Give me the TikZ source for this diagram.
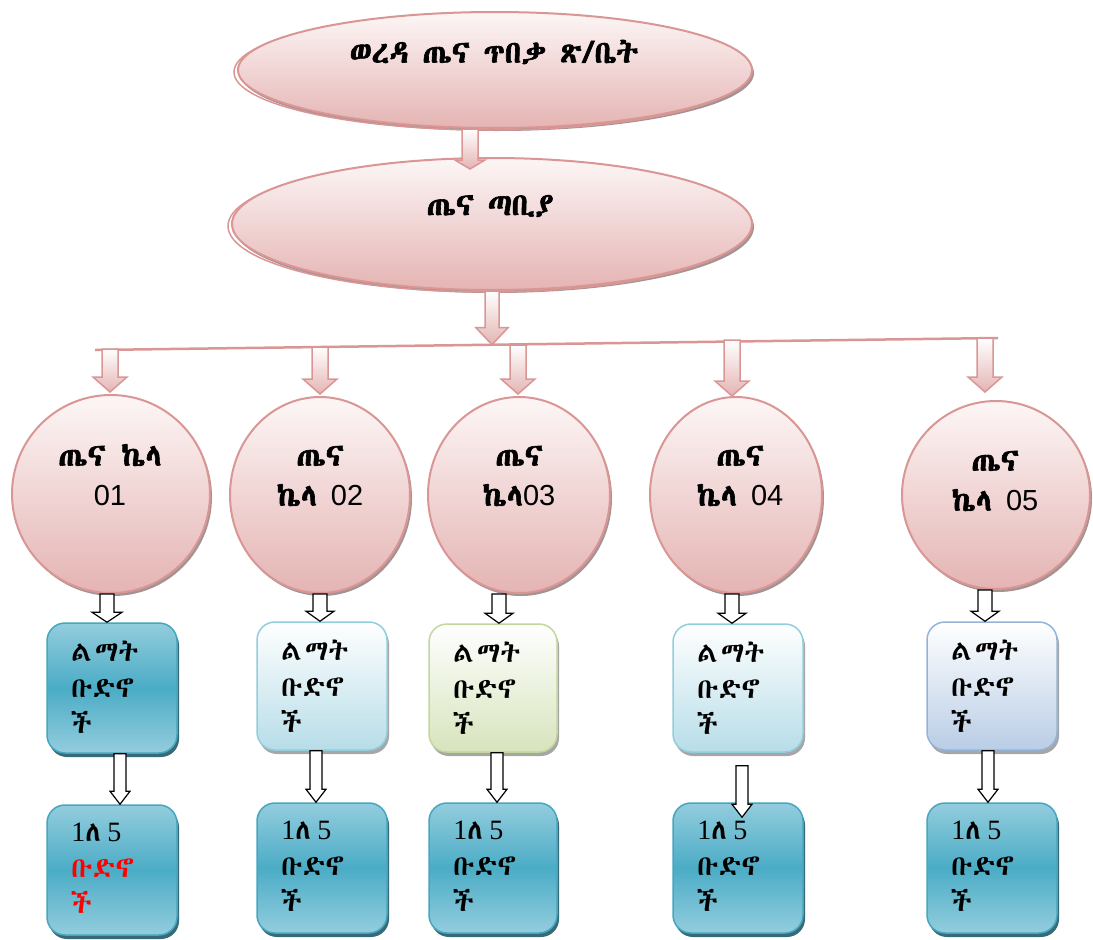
\documentclass[tikz,border=0pt]{standalone}
\usepackage{fontspec}
\usetikzlibrary{shapes.geometric,shadows,calc}
% Ethiopic text face, first one available
\IfFontExistsTF{Abyssinica SIL}{\newfontfamily\ethfont{Abyssinica SIL}[AutoFakeBold=2]}{%
 \IfFontExistsTF{FreeSerif}{\newfontfamily\ethfont{FreeSerif}[AutoFakeBold=2]}{%
  \IfFontExistsTF{FreeSans}{\newfontfamily\ethfont{FreeSans}[AutoFakeBold=2]}{%
   \IfFontExistsTF{NotoSansEthiopic-Regular.ttf}{\newfontfamily\ethfont{NotoSansEthiopic-Regular.ttf}[AutoFakeBold=2]}{%
    \IfFontExistsTF{Unifont}{\newfontfamily\ethfont{Unifont}[AutoFakeBold=2]}{%
     \newfontfamily\ethfont{DejaVu Sans}}}}}}
\newfontfamily\numsans{Liberation Sans}
\newfontfamily\numserif{Liberation Serif}

\definecolor{pinkline}{HTML}{D99694}
\definecolor{pinkfill}{HTML}{E4B4B3}
\definecolor{pinktop}{HTML}{FDF6F6}
\definecolor{tealmid}{HTML}{4BACC6}
\definecolor{tealedge}{HTML}{93CDDD}
\definecolor{tealline}{HTML}{46A5BF}
\definecolor{tealshadow}{HTML}{215968}
\definecolor{aquaend}{HTML}{B7DDE8}
\definecolor{aqualine}{HTML}{92CDDC}
\definecolor{olivend}{HTML}{D7E4BD}
\definecolor{oliveline}{HTML}{C3D69B}
\definecolor{lavend}{HTML}{B9CDE5}
\definecolor{lavline}{HTML}{95B3D7}

% block arrow: #1 style, #2 start, #3 tip, #4 half shaft, #5 half head, #6 head length
\newcommand\blockarrow[6]{%
  \path[#1] let \p1=#2, \p2=#3 in
    ({\x1-#4},\y1) -- ({\x1-#4},{\y2+#6}) -- ({\x1-#5},{\y2+#6}) -- (\x1,\y2)
    -- ({\x1+#5},{\y2+#6}) -- ({\x1+#4},{\y2+#6}) -- ({\x1+#4},\y1) -- cycle;}
\newcommand\kelanum[1]{{\numsans\mdseries\fontsize{29}{40}\selectfont #1}}
\newcommand\onefive{{\numserif 1}ለ\hspace{6pt}{\numserif 5}}

\tikzset{
  pinkshadow/.style={drop shadow={shadow xshift=2pt,shadow yshift=-3pt,fill=black!60!pinkline,opacity=.55}},
  bigoval/.style={ellipse, inner sep=0pt, draw=pinkline, line width=2pt,
    top color=pinktop, bottom color=pinkfill, pinkshadow,
    preaction={draw=pinkline, line width=1.5pt, transform canvas={shift={(-4pt,-2pt)}}}},
  kela/.style={ellipse, inner sep=0pt, draw=pinkline, line width=2pt,
    top color=pinktop, bottom color=pinkfill, pinkshadow},
  tealbox/.style={rounded corners=18pt, inner sep=0pt, draw=tealline, line width=1.5pt,
    top color=tealedge, bottom color=tealedge, middle color=tealmid,
    minimum width=130pt, minimum height=130pt,
    drop shadow={shadow xshift=2pt,shadow yshift=-4pt,fill=tealshadow,opacity=.9}},
  lightbox/.style={rounded corners=18pt, inner sep=0pt, line width=1.5pt,
    minimum width=130pt, minimum height=128pt, top color=white,
    drop shadow={shadow xshift=2pt,shadow yshift=-4pt,fill=black,opacity=.35}},
  aquabox/.style={lightbox, draw=aqualine, bottom color=aquaend},
  olivebox/.style={lightbox, draw=oliveline, bottom color=olivend},
  lavbox/.style={lightbox, draw=lavline, bottom color=lavend},
  pinkarrow/.style={draw=pinkline, line width=1.5pt, top color=white, bottom color=pinkfill},
  whitearrow/.style={draw=black, line width=1.2pt, fill=white},
  ovaltext/.style={font=\ethfont\bfseries\fontsize{31}{36}\selectfont, inner sep=0pt},
  kelatext/.style={font=\ethfont\bfseries\fontsize{31}{40}\selectfont, align=center, inner sep=0pt},
  boxtext/.style={font=\ethfont\fontsize{28}{36}\selectfont, align=left, inner sep=0pt, anchor=north west},
}

\begin{document}
\begin{tikzpicture}[x=1pt,y=-1pt]
\useasboundingbox (0,0) rectangle (1093,940);

% top level
\node[bigoval, minimum width=514pt, minimum height=116pt] (wereda) at (495,70) {};
\node[ovaltext] (weredatxt) at (494,52) {ወረዳ ጤና ጥበቃ ጽ/ቤት};
\node[bigoval, minimum width=520pt, minimum height=132pt] (station) at (492,224) {};
\node[ovaltext] (stationtxt) at (490,206) {ጤና ጣቢያ};
\blockarrow{pinkarrow}{([xshift=-25pt]wereda.south)}{([yshift=-12pt]station.north)}{8pt}{15pt}{9pt}

% distribution bar
\coordinate (barL) at (95,350);
\coordinate (barR) at (998,338);
\draw[pinkline, line width=2.5pt] (barL) -- (barR);
\blockarrow{pinkarrow}{(station.south)}{($(barL)!0.44!(barR)$)}{7pt}{16pt}{17pt}

% health posts
\node[kela, minimum width=198pt, minimum height=198pt] (k1) at (111,494) {};
\node[kela, minimum width=180pt, minimum height=196pt] (k2) at (320,495) {};
\node[kela, minimum width=182pt, minimum height=196pt] (k3) at (519,495) {};
\node[kela, minimum width=172pt, minimum height=196pt] (k4) at (736,495) {};
\node[kela, minimum width=188pt, minimum height=188pt] (k5) at (996,495) {};
\node[kelatext] (k1t) at (110,475) {ጤና\hspace{16pt}ኬላ\\\kelanum{01}};
\node[kelatext] (k2t) at (320,476) {ጤና\\ኬላ \kelanum{02}};
\node[kelatext] (k3t) at (519,476) {ጤና\\ኬላ\kelanum{03}};
\node[kelatext] (k4t) at (740,476) {ጤና\\ኬላ \kelanum{04}};
\node[kelatext] (k5t) at (995,481) {ጤና\\ኬላ \kelanum{05}};

\coordinate (p1) at (110,349);
\coordinate (p2) at (320,347);
\coordinate (p3) at (518,345);
\coordinate (p4) at (732,340);
\coordinate (p5) at (985,338);
\blockarrow{pinkarrow}{(p1)}{([yshift=2pt]k1.north)}{8pt}{17pt}{15pt}
\blockarrow{pinkarrow}{(p2)}{([yshift=2pt]k2.north)}{8pt}{17pt}{15pt}
\blockarrow{pinkarrow}{(p3)}{([yshift=2pt]k3.north)}{8pt}{17pt}{15pt}
\blockarrow{pinkarrow}{(p4)}{([yshift=0pt]k4.north)}{8pt}{17pt}{15pt}
\blockarrow{pinkarrow}{(p5)}{([yshift=8pt]k5.north)}{8pt}{17pt}{15pt}

% development groups
\node[tealbox] (m1) at (112,688) {};
\node[aquabox] (m2) at (322,686) {};
\node[olivebox, minimum width=128pt] (m3) at (493,688) {};
\node[aquabox] (m4) at (738,688) {};
\node[lavbox] (m5) at (992,686) {};
\foreach \m in {m1,m2,m3,m4,m5}
  \node[boxtext] (\m t) at ([xshift=25pt,yshift=-19pt]\m.north west) {ል\hspace{3pt}ማት\\ቡድኖ\\ች};

\blockarrow{whitearrow}{([xshift=-4pt]k1.south)}{(m1.north)}{7pt}{15pt}{10pt}
\blockarrow{whitearrow}{(k2.south)}{(m2.north)}{7pt}{14pt}{10pt}
\blockarrow{whitearrow}{([xshift=-20pt]k3.south)}{(m3.north)}{7pt}{14pt}{10pt}
\blockarrow{whitearrow}{([xshift=-4pt]k4.south)}{(m4.north)}{7pt}{14pt}{10pt}
\blockarrow{whitearrow}{([xshift=-11pt]k5.south)}{(m5.north)}{7pt}{14pt}{10pt}

% one-to-five groups
\node[tealbox] (b1) at (112,870) {};
\node[tealbox] (b2) at (322,868) {};
\node[tealbox, minimum width=128pt] (b3) at (493,868) {};
\node[tealbox] (b4) at (738,868) {};
\node[tealbox] (b5) at (992,868) {};
\node[boxtext] (b1t) at ([xshift=25pt,yshift=-19pt]b1.north west) {\onefive\\\textcolor{red}{ቡድኖ}\\\textcolor{red}{ች}};
\foreach \b in {b2,b3,b4,b5}
  \node[boxtext] (\b t) at ([xshift=25pt,yshift=-19pt]\b.north west) {\onefive\\ቡድኖ\\ች};

\blockarrow{whitearrow}{([xshift=8pt]m1.south)}{(b1.north)}{6pt}{10pt}{13pt}
\blockarrow{whitearrow}{([xshift=-6pt]m2.south)}{(b2.north)}{6pt}{10pt}{13pt}
\blockarrow{whitearrow}{([xshift=4pt]m3.south)}{(b3.north)}{6pt}{10pt}{13pt}
\blockarrow{whitearrow}{([xshift=4pt,yshift=-13pt]m4.south)}{([yshift=-15pt]b4.north)}{6pt}{10pt}{13pt}
\blockarrow{whitearrow}{([xshift=-4pt]m5.south)}{(b5.north)}{6pt}{10pt}{13pt}
\end{tikzpicture}
\end{document}
